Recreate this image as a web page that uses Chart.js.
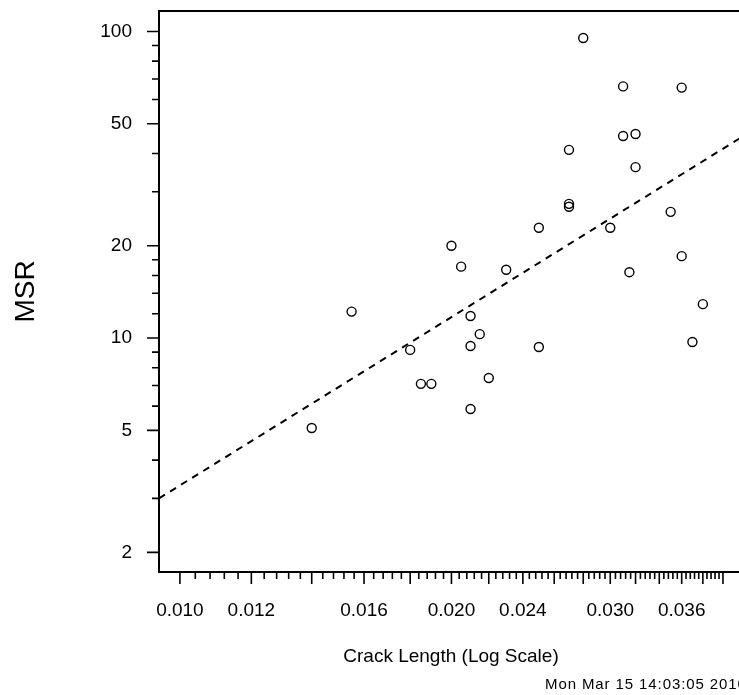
<!DOCTYPE html>
<html>

<head>
  <title>MSR vs Crack Length</title>
  <meta content="text/html;charset=utf-8" http-equiv="Content-Type">
  <script src="https://cdn.jsdelivr.net/npm/chart.js"></script>
  <style>
    html, body { margin: 0; padding: 0; background: #fff; overflow: hidden; }
  </style>
</head>

<body>

  <canvas id="myChart" width="760" height="695"></canvas>

  <script>
    // crack length (x) and MSR (y)
    const crackLength = [0.0140, 0.0155, 0.0180, 0.0185, 0.0190, 0.0200, 0.0205, 0.0210, 0.0215, 0.0210,
      0.0210, 0.0220, 0.0230, 0.0250, 0.0250, 0.0280, 0.0310, 0.0360, 0.0310, 0.0320,
      0.0270, 0.0320, 0.0270, 0.0270, 0.0350, 0.0300, 0.0360, 0.0315, 0.0380, 0.0370]
    const msr = [5.09, 12.2, 9.15, 7.09, 7.09, 20.0, 17.1, 11.8, 10.3, 9.42,
      5.87, 7.41, 16.7, 22.9, 9.35, 95.2, 66.2, 65.6, 45.6, 46.3,
      41.1, 36.1, 27.4, 26.8, 25.8, 22.9, 18.5, 16.4, 12.9, 9.71]

    // fitted line end points
    const fitX = [0.00948, 0.0421]
    const fitY = [3.0, 45.5]

    const xMajorTicks = [0.010, 0.012, 0.014, 0.016, 0.018, 0.020, 0.022, 0.024, 0.026, 0.028,
      0.030, 0.032, 0.034, 0.036, 0.038, 0.040]
    const xTickLabels = [0.010, 0.012, 0.016, 0.020, 0.024, 0.030, 0.036]
    const yTickLabels = [2, 5, 10, 20, 50, 100]
    const yMinorTicks = [3, 4, 6, 7, 8, 9, 12, 14, 16, 18, 30, 40, 60, 70, 80, 90]

    const dateText = 'Mon Mar 15 14:03:05 2010'
    const FONT = '"Liberation Sans", Arial, sans-serif'

    function near(a, b) { return Math.abs(a - b) < 1e-7 }

    function xTicks() {
      var out = []
      for (var i = 0; i < xMajorTicks.length; i++) {
        out.push({ value: xMajorTicks[i], long: true })
        if (i < xMajorTicks.length - 1) {
          var step = (xMajorTicks[i + 1] - xMajorTicks[i]) / 5
          for (var k = 1; k < 5; k++) out.push({ value: xMajorTicks[i] + k * step, long: false })
        }
      }
      return out
    }

    function yTicks() {
      var out = yTickLabels.map(v => ({ value: v, long: true }))
        .concat(yMinorTicks.map(v => ({ value: v, long: false })))
      return out.sort((a, b) => a.value - b.value)
    }

    const frame = {
      id: 'frame',
      afterDraw(chart) {
        const ctx = chart.ctx
        const a = chart.chartArea
        const xs = chart.scales.x
        const ys = chart.scales.y
        ctx.save()
        ctx.strokeStyle = '#000'
        ctx.lineWidth = 2
        ctx.strokeRect(a.left, a.top, a.right - a.left, a.bottom - a.top)
        ctx.lineWidth = 1.6
        ctx.beginPath()
        xs.ticks.forEach(t => {
          const px = xs.getPixelForValue(t.value)
          ctx.moveTo(px, a.bottom)
          ctx.lineTo(px, a.bottom + (t.long ? 12 : 7))
        })
        ys.ticks.forEach(t => {
          const py = ys.getPixelForValue(t.value)
          ctx.moveTo(a.left, py)
          ctx.lineTo(a.left - (t.long ? 12 : 7), py)
        })
        ctx.stroke()
        ctx.fillStyle = '#000'
        ctx.font = '15px ' + FONT
        ctx.letterSpacing = '0.9px'
        ctx.textAlign = 'left'
        ctx.textBaseline = 'alphabetic'
        ctx.fillText(dateText, 545, 689)
        ctx.restore()
      }
    }

    var ctx = document.getElementById('myChart').getContext('2d')

    var myChart = new Chart(ctx, {
      type: 'scatter',
      data: {
        datasets: [
          {
            type: 'scatter',
            data: crackLength.map((x, i) => ({ x: x, y: msr[i] })),
            pointStyle: 'circle',
            pointRadius: 4.5,
            pointBorderWidth: 1.4,
            borderColor: '#000',
            backgroundColor: 'rgba(0,0,0,0)'
          },
          {
            type: 'line',
            data: fitX.map((x, i) => ({ x: x, y: fitY[i] })),
            borderColor: '#000',
            borderWidth: 2,
            borderDash: [7, 6],
            pointRadius: 0,
            fill: false
          }
        ]
      },
      options: {
        responsive: false,
        devicePixelRatio: 1,
        animation: false,
        layout: { padding: { top: 11, right: 17, left: 0, bottom: 0 } },
        plugins: {
          legend: { display: false },
          tooltip: { enabled: false }
        },
        scales: {
          x: {
            type: 'logarithmic',
            position: 'bottom',
            min: 0.00948,
            max: 0.0421,
            afterBuildTicks: s => { s.ticks = xTicks() },
            afterFit: s => { s.height = 123; s.paddingLeft = 0; s.paddingRight = 0 },
            grid: { display: false, drawTicks: false },
            border: { display: false },
            ticks: {
              autoSkip: false,
              maxRotation: 0,
              minRotation: 0,
              padding: 27,
              color: '#000',
              font: { family: FONT, size: 19 },
              callback: v => xTickLabels.some(l => near(l, v)) ? v.toFixed(3) : ''
            },
            title: {
              display: true,
              text: 'Crack Length (Log Scale)',
              color: '#000',
              font: { family: FONT, size: 19 },
              padding: { top: 0, bottom: 27 }
            }
          },
          y: {
            type: 'logarithmic',
            position: 'left',
            min: 1.726,
            max: 116.6,
            afterBuildTicks: s => { s.ticks = yTicks() },
            afterFit: s => { s.width = 159; s.paddingTop = 0; s.paddingBottom = 0 },
            grid: { display: false, drawTicks: false },
            border: { display: false },
            ticks: {
              autoSkip: false,
              padding: 27,
              color: '#000',
              font: { family: FONT, size: 19 },
              callback: v => yTickLabels.some(l => near(l, v)) ? String(v) : ''
            },
            title: {
              display: true,
              text: 'MSR',
              color: '#000',
              font: { family: FONT, size: 28 },
              padding: { top: 9, bottom: 0 }
            }
          }
        }
      },
      plugins: [frame]
    });
  </script>
</body>

</html>
